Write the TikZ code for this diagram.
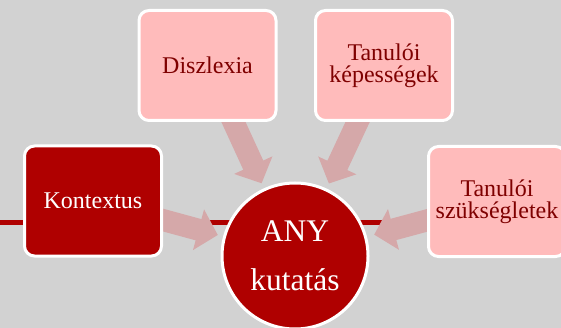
\documentclass[tikz,border=0pt]{standalone}
\usepackage{fontspec}
\setmainfont{Liberation Serif}
\usetikzlibrary{arrows.meta,calc}
\definecolor{bggray}{HTML}{D2D2D2}
\definecolor{darkred}{HTML}{AF0000}
\definecolor{pinkfill}{HTML}{FFBBBB}
\definecolor{pinktext}{HTML}{7F0000}
\definecolor{arrowpink}{HTML}{D5A8A9}
\begin{document}
\begin{tikzpicture}[x=1pt,y=-1pt,
  box/.style={draw=white, line width=3pt, rounded corners=10pt,
    minimum width=137pt, minimum height=110pt, align=center,
    font=\fontsize{24}{22}\selectfont, inner sep=0pt},
  darkbox/.style={box, fill=darkred, text=white},
  pinkbox/.style={box, fill=pinkfill, text=pinktext},
  hub/.style={circle, draw=white, line width=3pt, fill=darkred, text=white,
    minimum size=146pt, align=center, inner sep=0pt,
    font=\fontsize{31.5}{49}\selectfont},
  bigarrow/.style={draw=arrowpink, line width=22pt,
    -{Triangle[length=20pt,width=41pt]}},
  redline/.style={draw=darkred, line width=4.5pt}]
\useasboundingbox (0,0) rectangle (561,328);
\clip (0,0) rectangle (561,328);
\fill[bggray] (0,0) rectangle (561,328);
% node positions (behind everything drawn later)
\coordinate (c) at (295,256);
\coordinate (kpos) at (93,201);
\coordinate (dpos) at (207.5,65.5);
\coordinate (tpos) at (384,65.5);
\coordinate (spos) at (497,201.5);
\coordinate (lstart) at (0,222.5);
% red line
\draw[redline] (lstart) -- (lstart -| spos);
% arrows
\draw[bigarrow] (kpos) -- ($(c)!80pt!(kpos)$);
\draw[bigarrow] (dpos) -- ($(c)!80pt!(dpos)$);
\draw[bigarrow] (tpos) -- ($(c)!80pt!(tpos)$);
\draw[bigarrow] (spos) -- ($(c)!82pt!(spos)$);
% boxes
\node[darkbox] (kontextus) at (kpos) {Kontextus};
\node[pinkbox] (diszlexia) at (dpos) {Diszlexia};
\node[pinkbox] (kepessegek) at (tpos) {Tanulói\\képességek};
\node[pinkbox] (szuksegletek) at (spos) {Tanulói\\szükségletek};
% hub
\node[hub] (any) at (c) {ANY\\kutatás};
\end{tikzpicture}
\end{document}
